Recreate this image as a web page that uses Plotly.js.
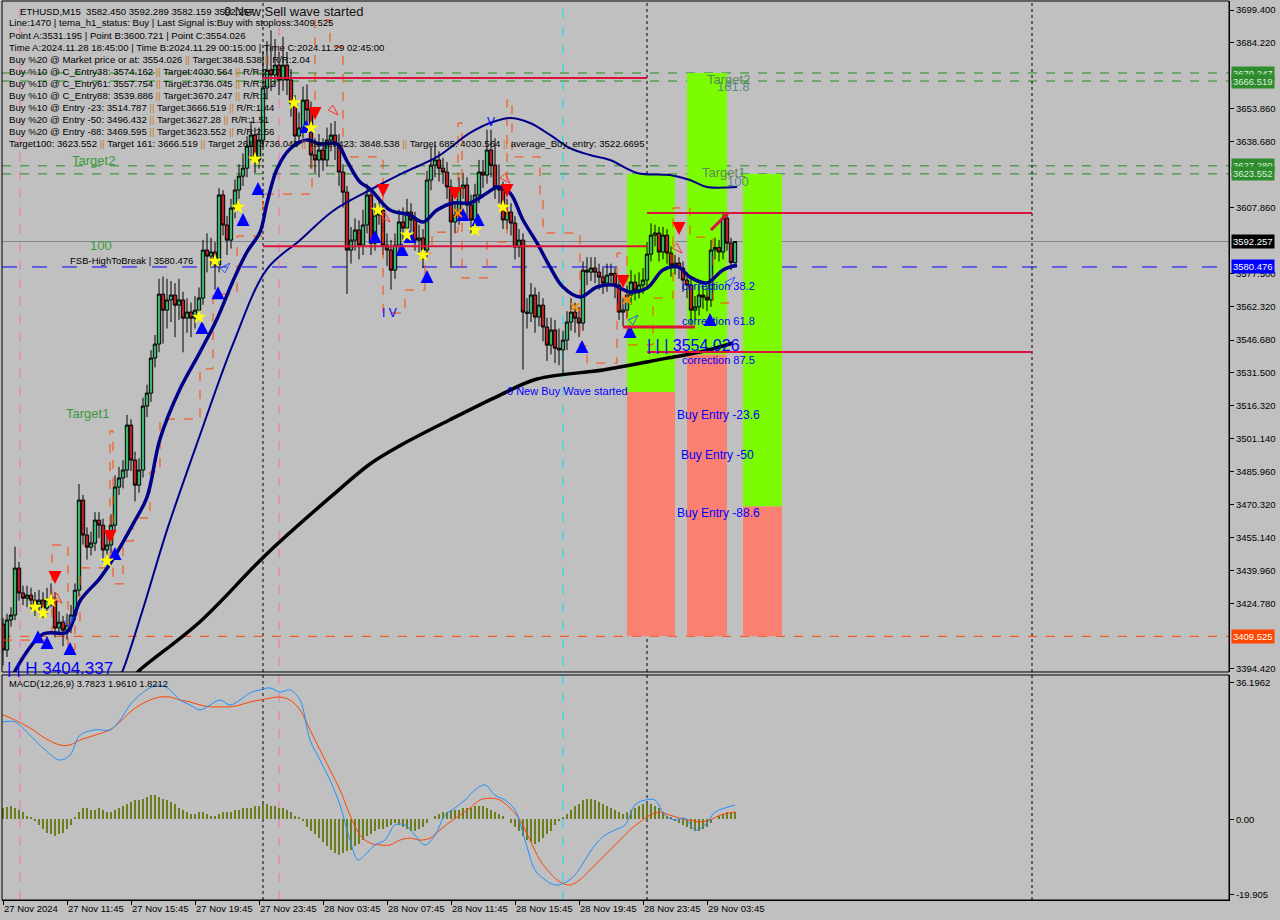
<!DOCTYPE html>
<html><head><meta charset="utf-8">
<script src="https://cdn.plot.ly/plotly-3.0.1.min.js"></script>
<style>html,body{margin:0;padding:0;background:#c0c0c0;}#chart{width:1280px;height:920px;}</style>
</head><body><div id="chart"></div>
<script>
// ---------------- DATA ----------------
const timeTickBars = [0,16,32,48,64,80,96,112,128,144,160,176];
const timeTickLabels = ['27 Nov 2024','27 Nov 11:45','27 Nov 15:45','27 Nov 19:45','27 Nov 23:45','28 Nov 03:45','28 Nov 07:45','28 Nov 11:45','28 Nov 15:45','28 Nov 19:45','28 Nov 23:45','29 Nov 03:45'];

const opens = [3415.2,3403.2,3417.1,3419.4,3441.1,3429.6,3427.2,3428.6,3426.3,3424.0,
3426.3,3422.6,3426.3,3427.2,3413.4,3416.1,3412.4,3414.7,3419.4,3430.9,
3472.6,3456.4,3450.8,3452.7,3463.3,3461.0,3449.5,3451.8,3461.0,3478.6,
3482.8,3486.5,3507.3,3491.1,3479.5,3486.5,3516.1,3522.1,3538.3,3544.8,
3567.9,3560.5,3565.2,3567.5,3562.8,3565.2,3556.8,3559.6,3556.8,3560.5,
3566.1,3588.3,3585.5,3587.4,3581.4,3613.8,3599.9,3592.9,3607.7,3616.1,
3622.5,3626.2,3636.4,3641.5,3630.0,3639.2,3663.3,3671.6,3669.3,3673.9,
3667.0,3673.9,3667.0,3656.3,3641.1,3644.8,3657.7,3653.1,3632.3,3630.0,
3634.6,3630.0,3639.2,3641.5,3636.9,3624.4,3615.1,3588.3,3592.9,3597.6,
3590.6,3599.9,3613.8,3591.5,3604.5,3606.8,3590.6,3588.3,3579.0,3590.6,
3601.3,3598.5,3605.9,3602.2,3592.9,3593.9,3588.3,3620.7,3627.6,3630.0,
3626.2,3624.4,3617.5,3601.3,3604.5,3617.0,3618.4,3609.1,3602.2,3613.8,
3624.4,3623.0,3634.6,3627.6,3617.5,3616.1,3602.2,3605.9,3600.8,3589.7,
3592.9,3559.6,3559.1,3567.5,3557.3,3562.8,3552.7,3544.3,3551.3,3542.9,
3542.1,3546.6,3555.0,3559.6,3556.8,3554.5,3579.0,3578.1,3580.0,3578.1,
3575.8,3573.0,3576.7,3577.5,3572.1,3559.6,3560.5,3567.5,3573.5,3569.8,
3572.1,3574.4,3586.4,3595.2,3596.2,3587.4,3595.2,3586.9,3581.4,3582.3,
3580.0,3574.4,3572.1,3560.5,3562.0,3567.5,3566.5,3565.2,3588.3,3589.5,
3587.4,3603.1,3591.5,3582.45];
const highs = [3418,3420,3423,3451,3444,3433,3433,3432,3430,3431,
3430,3432,3434,3430,3421,3419,3420,3424,3434,3480,
3475,3460,3458,3467,3467,3464,3457,3466,3484,3488,
3491,3512,3510,3495,3492,3520,3526,3542,3549,3575,
3576,3575,3574,3573,3575,3569,3566,3564,3567,3571,
3593,3596,3594,3592,3617,3616,3604,3612,3621,3628,
3633,3641,3648,3645,3645,3680,3685,3690,3686,3680,
3687,3680,3672,3660,3652,3664,3665,3657,3640,3642,
3640,3645,3647,3648,3642,3628,3618,3599,3603,3602,
3607,3619,3617,3610,3613,3610,3596,3593,3596,3607,
3608,3612,3610,3606,3600,3598,3625,3636,3637,3634,
3631,3629,3621,3611,3622,3624,3622,3614,3619,3630,
3630,3644,3644,3640,3628,3620,3612,3610,3604,3598,
3596,3566,3573,3571,3569,3566,3557,3557,3556,3552,
3551,3560,3566,3564,3562,3583,3585,3585,3585,3582,
3580,3582,3582,3580,3575,3566,3572,3579,3577,3578,
3580,3592,3600.721,3600,3599,3599,3598,3590,3586,3585,
3583,3578,3575,3567,3572,3572,3571,3593,3594,3593,
3606,3605,3594,3592.289];
const lows = [3396,3400,3414,3417,3426,3424,3423,3422,3419,3421,
3418,3420,3423,3409,3410,3405,3408,3411,3417,3428,
3452,3445,3447,3449,3455,3444,3446,3448,3458,3475,
3478,3483,3486,3472,3476,3483,3511,3518,3534,3541,
3545,3552,3555,3548,3556,3541,3550,3548,3552,3556,
3563,3578,3580,3570,3578,3595,3586,3589,3603,3612,
3618,3622,3630,3624,3626,3636,3658,3662,3664,3660,
3662,3660,3650,3636,3637,3640,3645,3626,3624,3622,
3625,3627,3634,3630,3618,3608,3568,3582,3588,3584,
3586,3596,3586,3588,3600,3586,3581,3570,3575,3586,
3593,3595,3597,3588,3587,3580,3585,3616,3622,3620,
3619,3612,3580,3596,3600,3612,3603,3596,3598,3610,
3617,3619,3622,3612,3610,3598,3598,3595,3584,3585,
3533,3552,3555,3550,3553,3546,3537,3540,3536,3535,
3531.195,3542,3551,3550,3548,3551,3572,3574,3573,3570,
3568,3569,3572,3566,3556,3553,3557,3563,3565,3566,
3568,3571,3583,3590,3583,3584,3582,3576,3577,3575,
3569,3566,3554.026,3556,3558,3561,3560,3562,3584,3583,
3584,3588,3579,3582.159];
const closes = [3403.2,3417.1,3419.4,3441.1,3429.6,3427.2,3428.6,3426.3,3424.0,3426.3,
3422.6,3426.3,3427.2,3413.4,3416.1,3412.4,3414.7,3419.4,3430.9,3472.6,
3456.4,3450.8,3452.7,3463.3,3461.0,3449.5,3451.8,3461.0,3478.6,3482.8,
3486.5,3507.3,3491.1,3479.5,3486.5,3516.1,3522.1,3538.3,3544.8,3567.9,
3560.5,3565.2,3567.5,3562.8,3565.2,3556.8,3559.6,3556.8,3560.5,3566.1,
3588.3,3585.5,3587.4,3581.4,3613.8,3599.9,3592.9,3607.7,3616.1,3622.5,
3626.2,3636.4,3641.5,3630.0,3639.2,3663.3,3671.6,3669.3,3673.9,3667.0,
3673.9,3667.0,3656.3,3641.1,3644.8,3657.7,3653.1,3632.3,3630.0,3634.6,
3630.0,3639.2,3641.5,3636.9,3624.4,3615.1,3588.3,3592.9,3597.6,3590.6,
3599.9,3613.8,3591.5,3604.5,3606.8,3590.6,3588.3,3579.0,3590.6,3601.3,
3598.5,3605.9,3602.2,3592.9,3593.9,3588.3,3620.7,3627.6,3630.0,3626.2,
3624.4,3617.5,3601.3,3604.5,3617.0,3618.4,3609.1,3602.2,3613.8,3624.4,
3623.0,3634.6,3627.6,3617.5,3616.1,3602.2,3605.9,3600.8,3589.7,3592.9,
3559.6,3559.1,3567.5,3557.3,3562.8,3552.7,3544.3,3551.3,3542.9,3542.1,
3546.6,3555.0,3559.6,3556.8,3554.5,3579.0,3578.1,3580.0,3578.1,3575.8,
3573.0,3576.7,3577.5,3572.1,3559.6,3560.5,3567.5,3573.5,3569.8,3572.1,
3574.4,3586.4,3595.2,3596.2,3587.4,3595.2,3586.9,3581.4,3582.3,3580.0,
3574.4,3572.1,3560.5,3562.0,3567.5,3566.5,3565.2,3588.3,3589.5,3587.4,
3603.1,3591.5,3582.5,3592.257];

// moving averages (bar index, price)
const fastMaBars = [1.75,10,16,19.25,24.25,27.5,32.5,36,39.25,44.25,49.25,53.5,57.5,61,64.25,66,68.5,71.75,76,79.25,83.5,86,89.25,91.75,96.75,101.75,105,108.5,112.5,116.75,121,123.75,126.75,130,133.5,136.75,140,144.25,148.5,152.5,156.75,161,165,168.75,171.75,176,180,183.5];
const fastMaVals = [3389.3,3410.6,3411.5,3425.9,3436.5,3445.3,3461.5,3474.0,3500.9,3524.0,3541.1,3556.4,3574.0,3587.4,3596.6,3610.1,3625.8,3635.1,3639.2,3637.4,3637.4,3629.5,3619.8,3616.6,3606.8,3604.5,3601.3,3606.8,3610.1,3610.1,3614.7,3617.5,3614.7,3602.2,3591.6,3580.5,3571.2,3566.6,3571.2,3572.1,3568.9,3570.7,3579.1,3580.5,3575.8,3573.1,3579.1,3581.4];
const slowMaBars = [28.75,30,35,41,49.25,57.5,66,74.25,82.5,91.75,100,108.5,116.75,121.75,126.75,131.75,136.75,141.75,146.75,151.75,158.5,166.75,171.75,176,183.5];
const slowMaVals = [3389.4,3394.0,3422.2,3458.7,3502.7,3544.8,3579.5,3592.9,3606.4,3616.1,3624.0,3631.4,3642.5,3647.1,3649.4,3647.1,3641.6,3635.5,3632.3,3630.0,3624.0,3623.0,3620.7,3617.5,3617.5];
const longMaBars = [31.75,34.25,49.25,66,82.5,91.75,99.25,111.75,124.25,133.5,150,161,166,174.25,182.5];
const longMaVals = [3389.3,3394.0,3416.3,3447.8,3475.0,3489.3,3497.8,3509.8,3521.2,3528.6,3532.8,3536.5,3538.3,3541.1,3545.3];

// trailing step line (orange dashed)
const stepBars = [0,12.25,16.25,18,19.25,26.75,27.5,30,32.5,36.75,39.25,49.25,52.5,58.5,65,77.25,78,81.75,85,95,100.5,105.5,107.25,113.75,114.75,121,126,127.25,134.25,135,144.25,146,153.5,156,162.5,167.5,171.75,177.5,183];
const stepVals = [3407.8,3451.8,3403.2,3414.3,3441.2,3504.6,3433.8,3453.6,3464.3,3485.6,3510.1,3533.3,3567.9,3594.8,3614.2,3644.8,3694.8,3682.3,3631.4,3559.2,3569.8,3586.9,3596.6,3647.1,3575.4,3592.0,3657.7,3631.4,3612.4,3596.2,3543.9,3536.0,3586.9,3544.4,3566.1,3607.8,3594.3,3563.8,3563.8];

// signals
const buyArrowBars = [8.75,11,16.75,28,49.75,53.75,60,63.75,75.75,93,99.75,101.75,106,115,118.75,144.75,156.75,176.75];
const buyArrowVals = [3412.4,3409.7,3406.9,3450.9,3555.5,3571.6,3605.4,3619.8,3648.5,3597.6,3591.6,3597.6,3579.1,3607.8,3605.4,3546.7,3553.6,3559.2];
const sellArrowBars = [13,26.75,78,95,113,126,155,169];
const sellArrowVals = [3433.7,3452.7,3648.5,3612.9,3611.5,3612.9,3570.7,3595.3];
const starBars = [8,10,12,26,49,53,58.75,63,72.75,77,93.75,101,105,118,125];
const starVals = [3423.1,3420.3,3425.9,3444.4,3557.3,3583.2,3608.2,3630.4,3656.4,3644.8,3606.8,3595.3,3586.0,3597.6,3608.2];
const crossBars = [113.75,143,156];
const crossVals = [3605.4,3561.9,3565.2];
const hollowSellBars = [14.75,83.75,96.75,126.75,169.75];
const hollowSellVals = [3424.9,3650.8,3601.3,3619.3,3586.9];
const hollowBuyBars = [17.75,56.75,158.75,183];
const hollowBuyVals = [3418.5,3582.3,3558.2,3575.8];

// levels
const targetLevels = [3670.247,3666.519,3627.280,3623.552];
const bidPrice = 3592.257;
const highToBreak = 3580.476;
const stopLoss = 3409.525;
const avgBuyEntry = 3522.6695;
const entry88 = 3469.595;
const cEntry88 = 3539.886;

// zones (bar start, bar end, green top, green bottom)
const zoneStart = [156,171,185];
const zoneEnd = [168,181,194.75];
const zoneTop = [3623.552,3670.247,3623.552];
const zoneMid = [avgBuyEntry,cEntry88,entry88];

// red segments
const redX0 = [65,65,161,161,155,177];
const redX1 = [161,161,257.25,257.25,173,181.25];
const redY0 = [3667.9,3590.1,3605.4,3541.1,3552.7,3597.6];
const redY1 = [3667.9,3590.1,3605.4,3541.1,3552.7,3605.4];
const redW = [2,2,2,2,3,3];

// vertical lines
const vBlack = [65,161,257.25];
const vPink = [4.25,69];
const vCyan = [140];

// price axis ticks
const priceTicks = [3699.400,3684.220,3653.860,3638.680,3607.860,3577.500,3562.320,3546.680,3531.500,3516.320,3501.140,3485.960,3470.320,3455.140,3439.960,3424.780,3394.420];

// MACD
const macdBars = [0,3,6.75,10.5,14.25,16.75,19.25,23,26.75,29.25,31.75,34.25,36.75,39.25,41.75,44.25,46.75,49.25,51.75,54.25,56.75,59.25,61.75,64.25,66.75,69.25,71.75,74.25,76.75,79.25,81.75,84.25,86.75,88.75,90.5,93,95.5,98,100.5,103,105.5,108,110.5,113,115.5,118,120.5,123,125.5,128,130.5,133,135.5,138,140.5,143,145.5,148,150.5,153,155.5,158,160.5,163,165.5,168,170.5,173,175.5,178,180.5,183];
const macdVals = [25.8,25.8,22.3,18.4,15.7,17.0,22.3,23.7,23.7,26.3,30.3,33.0,34.8,35.6,34.3,31.6,30.3,29.0,30.3,31.6,30.3,31.6,33.5,34.3,34.8,33.7,34.3,31.6,21.0,15.7,10.4,3.8,-5.5,-10.8,-9.4,-6.8,-5.5,-1.5,-1.5,-4.2,-6.8,-4.2,1.1,3.0,5.1,7.8,9.1,6.4,5.1,2.5,-5.5,-13.4,-16.0,-17.4,-16.8,-14.7,-10.8,-6.8,-4.2,-2.8,-1.5,3.8,5.1,5.1,1.1,-0.2,0.3,-2.8,-1.5,1.9,3.0,3.7823];
const signalBars = [0,3,6.75,10.5,14.25,16.75,19.25,23,26.75,29.25,31.75,34.25,36.75,39.25,41.75,44.25,46.75,49.25,51.75,54.25,56.75,59.25,61.75,64.25,66.75,69.25,71.75,74.25,76.75,79.25,81.75,84.25,86.75,89.25,91.75,94.25,96.75,99.25,101.75,104.25,106.75,109.25,111.75,114.25,116.75,119.25,121.75,124.25,126.75,129.25,131.75,134.25,136.75,139.25,141.75,144.25,146.75,149.25,151.75,154.25,156.75,159.25,161.75,164.25,166.75,169.25,171.75,174.25,176.75,179.25,183];
const signalVals = [27.7,26.3,24.2,21.5,19.7,19.7,21.0,22.3,23.7,25.8,28.4,30.3,31.6,32.4,32.4,31.6,31.1,30.3,29.8,29.8,29.8,30.3,31.1,31.6,32.1,32.4,31.6,29.0,23.7,18.4,13.1,7.8,1.1,-4.2,-6.3,-6.8,-6.8,-5.5,-5.0,-5.5,-5.0,-2.8,-0.7,1.1,3.0,5.1,5.6,5.1,3.0,-0.2,-5.5,-10.8,-14.2,-16.6,-17.4,-16.0,-13.4,-10.8,-8.2,-5.5,-2.8,-0.7,1.1,1.9,1.1,0.3,-0.2,-0.7,-0.2,1.1,1.961];
const histVals = [3.0,3.2,3.5,3.0,2.5,2.0,1.0,0.5,-0.5,-1.5,
-2.5,-3.5,-4.0,-4.5,-4.0,-3.5,-2.5,-1.5,
0.5,2.0,3.0,3.0,2.5,2.5,3.0,2.5,2.0,2.0,2.5,3.0,
3.5,4.0,4.5,5.0,5.0,5.5,6.0,6.5,6.5,6.0,5.5,5.0,4.5,4.0,3.0,
2.5,2.0,1.5,1.5,2.0,2.0,1.5,1.0,1.0,1.5,2.0,2.0,2.0,2.5,2.5,3.0,3.0,
3.0,3.5,3.5,4.0,4.0,3.5,3.5,3.0,3.0,2.5,2.0,1.0,0.5,-0.5,
-2.0,-3.0,-4.0,-5.0,-6.0,-7.0,-8.0,-9.0,-9.5,-9.0,-8.5,-8.0,-7.0,-6.5,-5.5,-4.5,-4.0,-3.0,-2.5,-2.5,
-2.0,-1.5,-1.0,-1.5,-2.0,-2.5,-3.0,-3.0,-2.5,-2.0,-1.0,0.0,1.0,1.5,2.0,
2.0,2.5,2.5,2.5,3.0,3.0,3.0,3.5,3.5,3.5,3.0,2.5,2.0,1.5,1.0,
0.0,-1.0,-2.0,-3.0,-4.5,-5.5,-6.0,-6.5,-6.0,-5.0,-4.0,-3.0,-1.5,-0.5,0.5,
1.5,2.5,3.5,4.0,5.0,5.5,5.5,5.0,4.5,4.0,3.5,3.0,2.5,2.0,1.5,2.0,2.5,3.0,3.5,4.0,
4.0,4.0,3.5,3.0,2.0,1.0,0.5,-0.5,-1.0,-1.5,-2.0,-2.5,-3.0,-3.0,-2.5,-2.0,-1.0,0.0,1.0,1.5,2.0,2.0,1.8212];
const macdTicks = [36.1962,0,-19.905];
const macdTickText = ['36.1962','0.00','-19.905'];

// texts
const headerLines = [
 'Line:1470 | tema_h1_status: Buy | Last Signal is:Buy with stoploss:3409.525',
 'Point A:3531.195 | Point B:3600.721 | Point C:3554.026',
 'Time A:2024.11.28 18:45:00 | Time B:2024.11.29 00:15:00 | Time C:2024.11.29 02:45:00',
 'Buy %20 @ Market price or at: 3554.026 || Target:3848.538 || R/R:2.04',
 'Buy %10 @ C_Entry38: 3574.162 || Target:4030.564 || R/R:2.77',
 'Buy %10 @ C_Entry61: 3557.754 || Target:3736.045 || R/R:1.2',
 'Buy %10 @ C_Entry88: 3539.886 || Target:3670.247 || R/R:1',
 'Buy %10 @ Entry -23: 3514.787 || Target:3666.519 || R/R:1.44',
 'Buy %20 @ Entry -50: 3496.432 || Target:3627.28 || R/R:1.51',
 'Buy %20 @ Entry -88: 3469.595 || Target:3623.552 || R/R:2.56',
 'Target100: 3623.552 || Target 161: 3666.519 || Target 261: 3736.045 || Target 423: 3848.538 || Target 685: 4030.564 || average_Buy_entry: 3522.6695'
];
const symbolLine = 'ETHUSD,M15  3582.450 3592.289 3582.159 3592.257';

// ---------------- LAYOUT HELPERS ----------------
const W = 1280, H = 920, ML = 2, MR = 51, MT = 1, MB = 20;
const PW = W - ML - MR, PH = H - MT - MB;
const px = x => (x - ML) / PW;
const py = y => (H - MB - y) / PH;
const FONT = 'Liberation Sans, Arial, sans-serif';
const bars = closes.map((_, i) => i);

const traces = [];
traces.push({type:'candlestick', x:bars, open:opens, high:highs, low:lows, close:closes, xaxis:'x', yaxis:'y',
  increasing:{line:{color:'#000000', width:1}, fillcolor:'#3cb371'},
  decreasing:{line:{color:'#000000', width:1}, fillcolor:'#b22222'},
  whiskerwidth:0, hoverinfo:'skip', showlegend:false});
traces.push({type:'scatter', mode:'lines', x:stepBars, y:stepVals, line:{color:'#ff4500', width:1, dash:'dash', shape:'hv'}, yaxis:'y', showlegend:false, hoverinfo:'skip'});
traces.push({type:'scatter', mode:'lines', x:longMaBars, y:longMaVals, line:{color:'#000000', width:3.5, shape:'spline'}, yaxis:'y', showlegend:false, hoverinfo:'skip'});
traces.push({type:'scatter', mode:'lines', x:slowMaBars, y:slowMaVals, line:{color:'#00008b', width:2, shape:'spline'}, yaxis:'y', showlegend:false, hoverinfo:'skip'});
traces.push({type:'scatter', mode:'lines', x:fastMaBars, y:fastMaVals, line:{color:'#00008b', width:3.5, shape:'spline'}, yaxis:'y', showlegend:false, hoverinfo:'skip'});
traces.push({type:'scatter', mode:'markers', x:buyArrowBars, y:buyArrowVals, marker:{symbol:'arrow-up', size:13, color:'#0000ff', line:{width:0}}, yaxis:'y', showlegend:false, hoverinfo:'skip'});
traces.push({type:'scatter', mode:'markers', x:sellArrowBars, y:sellArrowVals, marker:{symbol:'arrow-down', size:13, color:'#ff0000', line:{width:0}}, yaxis:'y', showlegend:false, hoverinfo:'skip'});
traces.push({type:'scatter', mode:'markers', x:starBars, y:starVals, marker:{symbol:'star', size:11, color:'#ffff00', line:{width:0}}, yaxis:'y', showlegend:false, hoverinfo:'skip'});
traces.push({type:'scatter', mode:'markers', x:crossBars, y:crossVals, marker:{symbol:'x-thin-open', size:8, color:'#ff8c00', line:{width:2, color:'#ff8c00'}}, yaxis:'y', showlegend:false, hoverinfo:'skip'});
traces.push({type:'scatter', mode:'markers', x:hollowSellBars, y:hollowSellVals, marker:{symbol:'arrow-open', angle:135, size:11, color:'#ff3030', line:{width:1, color:'#ff3030'}}, yaxis:'y', showlegend:false, hoverinfo:'skip'});
traces.push({type:'scatter', mode:'markers', x:hollowBuyBars, y:hollowBuyVals, marker:{symbol:'arrow-open', angle:45, size:11, color:'#3050ff', line:{width:1, color:'#3050ff'}}, yaxis:'y', showlegend:false, hoverinfo:'skip'});
// MACD
traces.push({type:'bar', x:bars, y:histVals, marker:{color:'#6b7d1f', line:{width:0}}, width:0.6, xaxis:'x', yaxis:'y2', showlegend:false, hoverinfo:'skip'});
traces.push({type:'scatter', mode:'lines', x:signalBars, y:signalVals, line:{color:'#ff4500', width:1, shape:'spline'}, xaxis:'x', yaxis:'y2', showlegend:false, hoverinfo:'skip'});
traces.push({type:'scatter', mode:'lines', x:macdBars, y:macdVals, line:{color:'#1e90ff', width:1, shape:'spline'}, xaxis:'x', yaxis:'y2', showlegend:false, hoverinfo:'skip'});

// shapes
const shapes = [];
zoneStart.forEach((s, k) => {
  shapes.push({type:'rect', xref:'x', yref:'y', x0:s, x1:zoneEnd[k], y0:zoneMid[k], y1:zoneTop[k], fillcolor:'#7cfc00', line:{width:0}, layer:'below'});
  shapes.push({type:'rect', xref:'x', yref:'y', x0:s, x1:zoneEnd[k], y0:stopLoss, y1:zoneMid[k], fillcolor:'#fa8072', line:{width:0}, layer:'below'});
});
targetLevels.forEach(v => shapes.push({type:'line', xref:'paper', yref:'y', x0:0, x1:1, y0:v, y1:v, line:{color:'#228b22', width:1, dash:'dash'}, layer:'below'}));
shapes.push({type:'line', xref:'paper', yref:'y', x0:0, x1:1, y0:bidPrice, y1:bidPrice, line:{color:'#808890', width:1}, layer:'below'});
shapes.push({type:'line', xref:'paper', yref:'y', x0:0, x1:1, y0:highToBreak, y1:highToBreak, line:{color:'#0000ff', width:1, dash:'longdash'}, layer:'below'});
shapes.push({type:'line', xref:'paper', yref:'y', x0:0, x1:1, y0:stopLoss, y1:stopLoss, line:{color:'#ff4500', width:1, dash:'dash'}, layer:'below'});
vBlack.forEach(v => shapes.push({type:'line', xref:'x', yref:'paper', x0:v, x1:v, y0:0, y1:1, line:{color:'#000000', width:1, dash:'dot'}, layer:'below'}));
vPink.forEach(v => shapes.push({type:'line', xref:'x', yref:'paper', x0:v, x1:v, y0:0, y1:1, line:{color:'#ff69b4', width:1, dash:'dash'}, layer:'below'}));
vCyan.forEach(v => shapes.push({type:'line', xref:'x', yref:'paper', x0:v, x1:v, y0:0, y1:1, line:{color:'#00e5ee', width:1, dash:'dash'}, layer:'below'}));
redX0.forEach((x0, k) => shapes.push({type:'line', xref:'x', yref:'y', x0:x0, x1:redX1[k], y0:redY0[k], y1:redY1[k], line:{color:'#dc143c', width:redW[k]}}));
shapes.push({type:'rect', xref:'paper', yref:'y domain', x0:0, x1:1, y0:0, y1:1, line:{color:'#000000', width:1}});
shapes.push({type:'rect', xref:'paper', yref:'y2 domain', x0:0, x1:1, y0:0, y1:1, line:{color:'#000000', width:1}});

// annotations
const ann = [];
function txt(s, x, y, size, color) {
  ann.push({text:s, xref:'paper', yref:'paper', x:px(x), y:py(y), xanchor:'left', yanchor:'middle', showarrow:false,
    font:{family:FONT, size:size, color:color}});
}
const sep = s => s.replace(/\|\|/g, '<span style="color:#c8781e">||</span>');
txt(symbolLine, 18, 11, 9.6, '#000000');
headerLines.forEach((s, k) => txt(sep(s), 7, 23 + k * 12.1, 9.6, '#000000'));
txt('0 New Sell wave started', 222, 12, 13, '#111111');
txt('Target2', 70, 160, 13, '#3a9a3a');
txt('Target1', 64, 413, 13, '#3a9a3a');
txt('100', 88, 246, 13, '#3a9a3a');
txt('FSB-HighToBreak | 3580.476', 68, 260, 9.5, '#000000');
txt('Target2', 705, 79, 13, '#5a8a5a');
txt('161.8', 715, 87, 13, '#5a8a8a');
txt('Target1', 700, 172, 13, '#5a8a5a');
txt('100', 725, 181, 13, '#5a8a8a');
txt('correction 38.2', 680, 286, 11, '#0000ff');
txt('correction 61.8', 680, 321, 11, '#0000ff');
txt('| | | 3554.026', 645, 345, 16, '#0000ff');
txt('correction 87.5', 680, 360, 11, '#0000ff');
txt('0 New Buy Wave started', 505, 391, 11, '#0000ff');
txt('Buy Entry -23.6', 675, 415, 12, '#0000ff');
txt('Buy Entry -50', 679, 455, 12, '#0000ff');
txt('Buy Entry -88.6', 675, 513, 12, '#0000ff');
txt('I V', 380, 313, 12, '#0000ff');
txt('V', 485, 122, 12, '#0000ff');
txt('| | H 3404.337', 5, 668, 17, '#0000ff');
txt('MACD(12,26,9) 3.7823 1.9610 1.8212', 7, 683, 9.4, '#000000');

// coloured price boxes on the axis
function box(v, bg, fg) {
  ann.push({text:v.toFixed(3), xref:'paper', yref:'y', x:1, y:v, xanchor:'left', yanchor:'middle', xshift:2, showarrow:false,
    bgcolor:bg, borderpad:1, font:{family:FONT, size:9.5, color:fg}});
}
box(targetLevels[0], '#2e8b2e', '#d8f0d8');
box(targetLevels[1], '#2e8b2e', '#d8f0d8');
box(targetLevels[2], '#2e8b2e', '#d8f0d8');
box(targetLevels[3], '#2e8b2e', '#d8f0d8');
box(bidPrice, '#000000', '#ffffff');
box(highToBreak, '#0000ff', '#ffffff');
box(stopLoss, '#ff4500', '#ffffff');

const layout = {
  width: W, height: H,
  margin: {l: ML, r: MR, t: MT, b: MB, pad: 0},
  paper_bgcolor: '#c0c0c0', plot_bgcolor: '#c0c0c0',
  showlegend: false, hovermode: false, dragmode: false,
  font: {family: FONT, size: 10, color: '#000000'},
  bargap: 0, boxgap: 0.15, boxgroupgap: 0,
  xaxis: {type:'linear', range:[-0.25, 306.5], anchor:'y2', showgrid:false, zeroline:false,
    tickmode:'array', tickvals:timeTickBars, ticktext:timeTickLabels, ticks:'outside', ticklen:4, tickcolor:'#000',
    ticklabelposition:'outside right', tickangle:0, automargin:false, tickfont:{family:FONT, size:9.5, color:'#000'},
    showline:true, linecolor:'#000', rangeslider:{visible:false}},
  yaxis: {domain:[0.25362, 1], range:[3393.03, 3703.57], side:'right', anchor:'x', showgrid:false, zeroline:false,
    tickmode:'array', tickvals:priceTicks, ticktext:priceTicks.map(v => v.toFixed(3)),
    ticks:'outside', ticklen:4, tickcolor:'#000', tickfont:{family:FONT, size:9.5, color:'#000'},
    showline:true, linecolor:'#000'},
  yaxis2: {domain:[0, 0.25028], range:[-21.38, 38.24], side:'right', anchor:'x', showgrid:false, zeroline:false,
    tickmode:'array', tickvals:macdTicks, ticktext:macdTickText,
    ticks:'outside', ticklen:4, tickcolor:'#000', tickfont:{family:FONT, size:9.5, color:'#000'},
    showline:true, linecolor:'#000'},
  shapes: shapes,
  annotations: ann
};
Plotly.newPlot('chart', traces, layout, {staticPlot: true, displayModeBar: false});
</script>
</body></html>
